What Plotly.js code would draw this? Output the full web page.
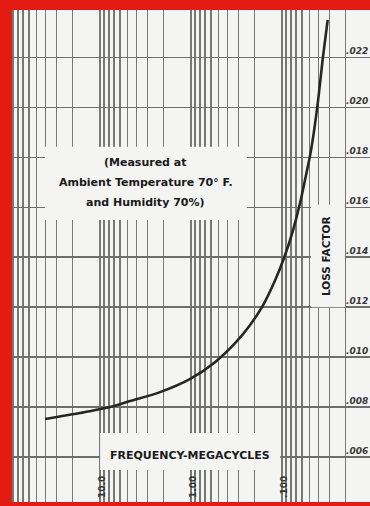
<!DOCTYPE html>
<html>
<head>
<meta charset="utf-8">
<script src="https://cdn.plot.ly/plotly-3.0.1.min.js"></script>
<style>
  html, body { margin: 0; padding: 0; background: #e41b12; }
  #chart { width: 370px; height: 506px; }
</style>
</head>
<body>
<div id="chart"></div>
<script>
// Data (frequency in megacycles, loss factor)
const freqMc     = [40.2, 16.6, 7.76, 4.68, 2.19, 1.03, 0.545, 0.328, 0.225, 0.166, 0.119, 0.0927, 0.0757, 0.0634, 0.0545, 0.0480, 0.0410, 0.0355, 0.0315];
const lossFactor = [0.00752, 0.00776, 0.0080, 0.00824, 0.0086, 0.00912, 0.0098, 0.01056, 0.01128, 0.0120, 0.01308, 0.01408, 0.01508, 0.01616, 0.01728, 0.01828, 0.0200, 0.0220, 0.0235];

// Axis tick labels
const xTickVals   = [10, 1, 0.1];
const xTickLabels = ['10.0', '1.00', '.100'];
const yTickVals   = [0.006, 0.008, 0.010, 0.012, 0.014, 0.016, 0.018, 0.020, 0.022];
const yTickLabels = ['.006', '.008', '.010', '.012', '.014', '.016', '.018', '.020', '.022'];

// Text
const noteLines  = ['(Measured at', 'Ambient Temperature 70° F.', 'and Humidity 70%)'];
const xAxisTitle = 'FREQUENCY-MEGACYCLES';
const yAxisTitle = 'LOSS FACTOR';

// log grid lines 1..9 per decade
const gridX = [];
[0.01, 0.1, 1, 10].forEach(d => { for (let k = 1; k <= 9; k++) gridX.push(+(k * d).toPrecision(3)); });
gridX.push(100);

const gridColor = '#777777';

const annotations = [];
xTickVals.forEach((v, i) => annotations.push({
  x: Math.log10(v), xref: 'x', y: 0.004, yref: 'paper',
  text: '<b>' + xTickLabels[i] + '</b>', textangle: -90, showarrow: false,
  xanchor: 'center', yanchor: 'bottom', xshift: 2,
  font: {family: 'DejaVu Sans', size: 9, color: '#333'}
}));
yTickVals.forEach((v, i) => annotations.push({
  x: 1, xref: 'paper', y: v, yref: 'y',
  text: '<b><i>' + yTickLabels[i] + '</i></b>', showarrow: false,
  xanchor: 'right', yanchor: 'bottom', yshift: -1,
  font: {family: 'DejaVu Sans', size: 9, color: '#3a3a3a'}
}));
const noteY = [0.691, 0.650, 0.608];
noteLines.forEach((t, i) => annotations.push({
  x: 0.374, xref: 'paper', y: noteY[i], yref: 'paper',
  text: '<b>' + t + '</b>', showarrow: false, xanchor: 'center', yanchor: 'middle',
  font: {family: 'DejaVu Sans', size: 11, color: '#1a1a1a'}
}));
annotations.push({
  x: 0.497, xref: 'paper', y: 0.0955, yref: 'paper',
  text: '<b>' + xAxisTitle + '</b>', showarrow: false, xanchor: 'center', yanchor: 'middle',
  font: {family: 'DejaVu Sans', size: 11, color: '#1a1a1a'}
});
annotations.push({
  x: 0.877, xref: 'paper', y: 0.5, yref: 'paper',
  text: '<b>' + yAxisTitle + '</b>', textangle: -90, showarrow: false,
  xanchor: 'center', yanchor: 'middle',
  font: {family: 'DejaVu Sans', size: 10.5, color: '#1a1a1a'}
});

const bg = '#f4f4f2';
const shapes = [
  {type: 'rect', xref: 'paper', yref: 'paper', x0: 0.092, x1: 0.656, y0: 0.573, y1: 0.722, fillcolor: bg, line: {width: 0}, layer: 'above'},
  {type: 'rect', xref: 'paper', yref: 'paper', x0: 0.246, x1: 0.749, y0: 0.065, y1: 0.140, fillcolor: bg, line: {width: 0}, layer: 'above'},
  {type: 'rect', xref: 'paper', yref: 'paper', x0: 0.835, x1: 0.930, y0: 0.396, y1: 0.604, fillcolor: bg, line: {width: 0}, layer: 'above'}
];

const trace = {
  x: freqMc, y: lossFactor, type: 'scatter', mode: 'lines',
  line: {color: '#262626', width: 2.6, shape: 'spline', smoothing: 0.8},
  hoverinfo: 'skip'
};

const layout = {
  width: 370, height: 506,
  margin: {l: 12, r: 0, t: 10, b: 4},
  paper_bgcolor: '#e41b12',
  plot_bgcolor: bg,
  showlegend: false,
  xaxis: {
    type: 'log', range: [1.967, -1.967],
    tickvals: gridX, showticklabels: false, ticks: '',
    showgrid: true, gridcolor: gridColor, gridwidth: 1.4,
    zeroline: false, showline: false
  },
  yaxis: {
    range: [0.0042, 0.0239],
    tickvals: yTickVals, showticklabels: false, ticks: '',
    showgrid: true, gridcolor: '#6e6e6e', gridwidth: 1.6,
    zeroline: false, showline: false
  },
  annotations: annotations,
  shapes: shapes
};

Plotly.newPlot('chart', [trace], layout, {displayModeBar: false, staticPlot: true});
</script>
</body>
</html>
